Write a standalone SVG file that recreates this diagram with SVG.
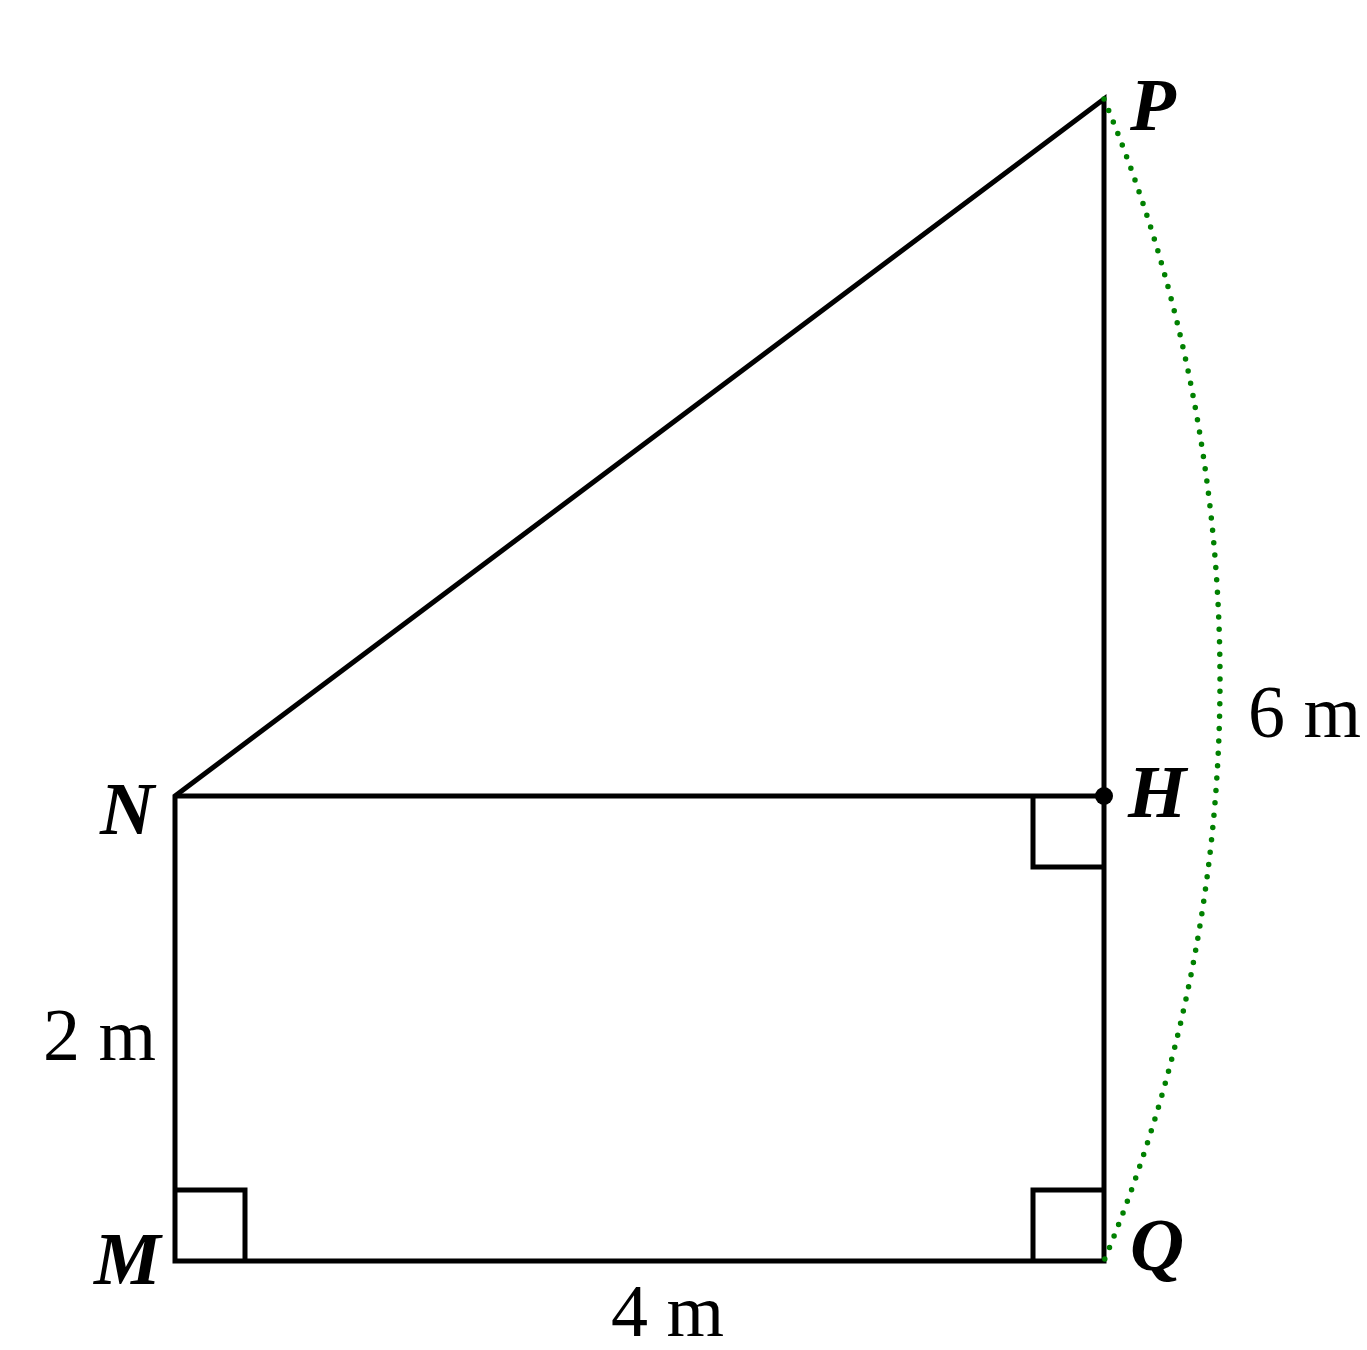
<svg xmlns="http://www.w3.org/2000/svg" width="1367" height="1350" viewBox="0 0 1367 1350">
<style>
.ln{fill:none;stroke:#000;stroke-width:5;stroke-linejoin:miter}
.lbl{font-family:"Liberation Serif","Times New Roman",serif;font-weight:bold;font-style:italic;font-size:75px;fill:#000}
.dim{font-family:"Liberation Serif","Times New Roman",serif;font-size:74px;fill:#000}
</style>
<rect width="1367" height="1350" fill="#fff"/>
<g id="connectors">
<path class="ln" d="M175 796 L1104 99 L1104 1261 L175 1261 Z"/>
<line class="ln" x1="175" y1="796" x2="1104" y2="796"/>
<path class="ln" d="M1104 867 H1033 V796"/>
<path class="ln" d="M175 1190 H245 V1261"/>
<path class="ln" d="M1104 1190 H1033 V1261"/>
<path d="M1104 99 A1513 1513 0 0 1 1104 1261" fill="none" stroke="#008000" stroke-width="5.5" stroke-linecap="round" stroke-dasharray="0 12.4"/>
</g>
<g id="node-P"><text class="lbl" x="1130" y="130">P</text></g>
<g id="node-H"><circle cx="1104" cy="796" r="9" fill="#000"/><text class="lbl" x="1128" y="817">H</text></g>
<g id="node-N"><text class="lbl" x="100" y="834">N</text></g>
<g id="node-M"><text class="lbl" x="94" y="1284">M</text></g>
<g id="node-Q"><text class="lbl" x="1130" y="1270">Q</text></g>
<g id="dims">
<text class="dim" x="1248" y="737">6 m</text>
<text class="dim" x="43" y="1060">2 m</text>
<text class="dim" x="611" y="1336">4 m</text>
</g>
</svg>
